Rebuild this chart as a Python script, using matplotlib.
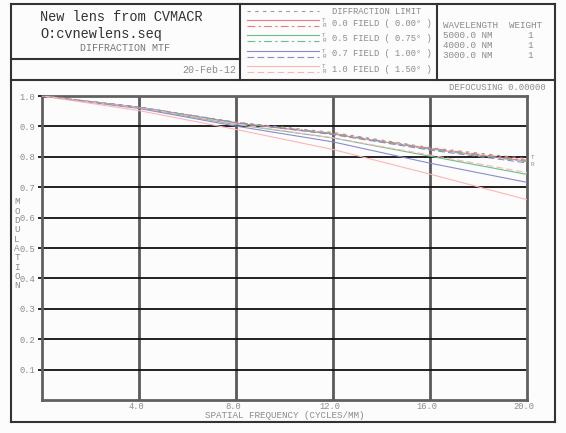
import matplotlib
matplotlib.use('Agg')
import matplotlib.pyplot as plt
from matplotlib.lines import Line2D
from matplotlib.transforms import ScaledTranslation

# Values
freq = [0, 4, 8, 12, 16, 20]
diff_limit = [1.0, 0.964, 0.914, 0.880, 0.830, 0.794]
f00_t = [1.0, 0.963, 0.911, 0.875, 0.826, 0.786]
f00_r = [1.0, 0.963, 0.913, 0.877, 0.828, 0.789]
f05_t = [1.0, 0.961, 0.906, 0.862, 0.802, 0.742]
f05_r = [1.0, 0.963, 0.912, 0.875, 0.825, 0.784]
f07_t = [1.0, 0.959, 0.901, 0.849, 0.779, 0.716]
f07_r = [1.0, 0.963, 0.912, 0.873, 0.822, 0.780]
f10_t = [1.0, 0.952, 0.890, 0.824, 0.743, 0.659]
f10_r = [1.0, 0.962, 0.908, 0.862, 0.806, 0.748]

fields = ['0.0 FIELD ( 0.00\u00b0 )', '0.5 FIELD ( 0.75\u00b0 )',
          '0.7 FIELD ( 1.00\u00b0 )', '1.0 FIELD ( 1.50\u00b0 )']
wavelengths = ['5000.0 NM', '4000.0 NM', '3000.0 NM']
weights = ['1', '1', '1']
x_ticks = [4, 8, 12, 16, 20]
y_ticks = [0.1, 0.2, 0.3, 0.4, 0.5, 0.6, 0.7, 0.8, 0.9, 1.0]

colors = ['#f07878', '#66c08a', '#8a8ad0', '#ffb4b4']
t_curves = [f00_t, f05_t, f07_t, f10_t]
r_curves = [f00_r, f05_r, f07_r, f10_r]
r_styles = [(0, (7, 3, 2, 3)), (0, (7, 3, 2, 3)), (0, (6, 3)), (0, (6, 3))]

MONO = 'Liberation Mono'
GREY_TXT = '#8c8c8c'
W, H = 566, 433

fig = plt.figure(figsize=(W / 100, H / 100), dpi=100, facecolor='#fcfcfc')

# Overlay in pixel coordinates for the boxes and header text
bg = fig.add_axes([0, 0, 1, 1])
bg.set_xlim(0, W)
bg.set_ylim(H, 0)
bg.axis('off')


def seg(x0, y0, x1, y1, **kw):
    kw.setdefault('color', '#333333')
    kw.setdefault('lw', 1.5)
    bg.add_line(Line2D([x0, x1], [y0, y1], **kw))


# outer frame and header boxes
seg(11, 4, 555, 4)
seg(11, 422, 555, 422)
seg(11, 4, 11, 422)
seg(555, 4, 555, 422)
seg(11, 80, 555, 80)
seg(240, 4, 240, 80)
seg(437, 4, 437, 80)
seg(11, 59, 240, 59)

# title box
bg.text(40, 17, 'New lens from CVMACR', family=MONO, fontsize=9.8, color='#333333', va='center')
bg.text(40, 34, 'O:cvnewlens.seq', family=MONO, fontsize=9.8, color='#333333', va='center')
bg.text(125, 48, 'DIFFRACTION MTF', family=MONO, fontsize=7.2, color='#777777', va='center', ha='center')
bg.text(236, 70, '20-Feb-12', family=MONO, fontsize=7.2, color=GREY_TXT, va='center', ha='right')

# legend box
seg(247, 11, 319, 11, color='#999999', lw=0.8, ls=(0, (3, 4)))
bg.text(332, 11, 'DIFFRACTION LIMIT', family=MONO, fontsize=6.3, color=GREY_TXT, va='center')
row_y = [20, 35.3, 50.7, 65.7]
for i, label in enumerate(fields):
    y = row_y[i]
    seg(247, y, 319, y, color=colors[i], lw=0.8)
    seg(247, y + 6, 319, y + 6, color=colors[i], lw=0.8, ls=r_styles[i])
    bg.text(324, y + 0.5, 'T', family=MONO, fontsize=4.2, color=GREY_TXT, va='center', ha='center')
    bg.text(324, y + 5.5, 'R', family=MONO, fontsize=4.2, color=GREY_TXT, va='center', ha='center')
    bg.text(332, y + 3.3, label, family=MONO, fontsize=6.3, color=GREY_TXT, va='center')

# wavelength box
bg.text(443, 25, 'WAVELENGTH  WEIGHT', family=MONO, fontsize=6.7, color=GREY_TXT, va='center')
for i, (wl, wt) in enumerate(zip(wavelengths, weights)):
    y = 35.5 + i * 10
    bg.text(443, y, wl, family=MONO, fontsize=6.7, color=GREY_TXT, va='center')
    bg.text(530, y, wt, family=MONO, fontsize=6.7, color=GREY_TXT, va='center', ha='center')

bg.text(546, 87.5, 'DEFOCUSING 0.00000', family=MONO, fontsize=6.4, color=GREY_TXT, va='center', ha='right')

# vertical stacked axis title
for i, ch in enumerate('MODULATION'):
    bg.text(17, 202 + i * 9.3, ch, family=MONO, fontsize=6.7, color=GREY_TXT, va='center', ha='center')

bg.text((42 + 527) / 2, 416, 'SPATIAL FREQUENCY (CYCLES/MM)', family=MONO, fontsize=6.7,
        color=GREY_TXT, va='center', ha='center')

# main plot
left, right, top, bottom = 42, 527, 96, 400
ax = fig.add_axes([left / W, (H - bottom) / H, (right - left) / W, (bottom - top) / H])
ax.set_facecolor('none')
ax.set_xlim(0, 20)
ax.set_ylim(0, 1)

for v in x_ticks[:-1]:
    ax.axvline(v, color='#5a5a5a', lw=2, zorder=1)
for v in y_ticks[:-1]:
    ax.axhline(v, color='#111111', lw=1.3, zorder=1)

ax.plot(freq, diff_limit, color='#999999', lw=0.8, ls=(0, (3, 4)), zorder=4)
for i in range(4):
    ax.plot(freq, t_curves[i], color=colors[i], lw=0.8, zorder=3)
    ax.plot(freq, r_curves[i], color=colors[i], lw=0.8, ls=r_styles[i], zorder=3)

ax.text(20.15, f00_t[-1] + 0.012, 'T', family=MONO, fontsize=4.2, color=GREY_TXT, va='center')
ax.text(20.15, f00_t[-1] - 0.012, 'R', family=MONO, fontsize=4.2, color=GREY_TXT, va='center')

for s in ax.spines.values():
    s.set_color('#606060')
    s.set_linewidth(2)

ax.set_xticks(x_ticks)
ax.set_xticklabels([f'{v:.1f}' for v in x_ticks])
ax.set_yticks(y_ticks)
ax.set_yticklabels([f'{v:.1f}' for v in y_ticks])
ax.tick_params(axis='x', length=0, pad=1.5, labelsize=6.3, labelcolor=GREY_TXT)
ax.tick_params(axis='y', length=3, width=1.3, color='#111111', pad=2, labelsize=6.3,
               labelcolor=GREY_TXT)
shift = ScaledTranslation(-3 / 100, 0, fig.dpi_scale_trans)
for lab in ax.get_xticklabels():
    lab.set_family(MONO)
    lab.set_transform(lab.get_transform() + shift)
for lab in ax.get_yticklabels():
    lab.set_family(MONO)

fig.savefig('out.png', dpi=100, facecolor=fig.get_facecolor())
